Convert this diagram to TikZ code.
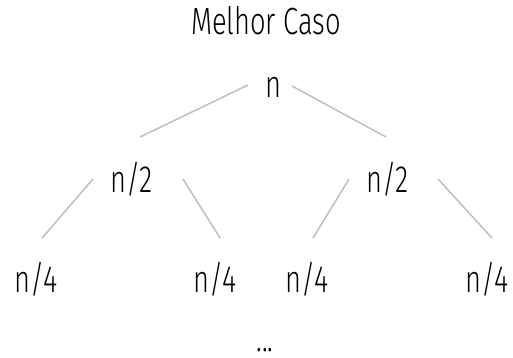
\documentclass[tikz,border=0pt]{standalone}
\usepackage{fontspec}
\setmainfont[FakeStretch=0.72]{Fira Sans Light}
\begin{document}
\begin{tikzpicture}[x=1bp,y=-1bp]
\tikzset{
  lbl/.style={anchor=base,inner sep=0pt,font=\fontsize{38}{40}\selectfont},
  edge/.style={draw={rgb,255:red,190;green,190;blue,190},line width=1.5bp}
}
\useasboundingbox (0,0) rectangle (513,357);
\node[lbl] (title) at (266,34) {Melhor Caso};
\node[lbl] (r) at (273,97) {n};
\node[lbl] (a) at (132,192) {n/2};
\node[lbl] (b) at (388,192) {n/2};
\node[lbl] (a1) at (36,292) {n/4};
\node[lbl] (a2) at (215,292) {n/4};
\node[lbl] (b1) at (307,292) {n/4};
\node[lbl] (b2) at (487,292) {n/4};
\node[lbl,text depth=0pt] (dots) at (265,351) {...};
\coordinate (rL) at (248,85);
\coordinate (rR) at (292,86);
\coordinate (aT) at (140,137);
\coordinate (bT) at (386,137);
\coordinate (aL) at (93,179);
\coordinate (aR) at (183,179);
\coordinate (bL) at (349,179);
\coordinate (bR) at (438,179);
\coordinate (a1T) at (42,238);
\coordinate (a2T) at (220,238);
\coordinate (b1T) at (313,238);
\coordinate (b2T) at (492,238);
\draw[edge] (rL) -- (aT);
\draw[edge] (rR) -- (bT);
\draw[edge] (aL) -- (a1T);
\draw[edge] (aR) -- (a2T);
\draw[edge] (bL) -- (b1T);
\draw[edge] (bR) -- (b2T);
\end{tikzpicture}
\end{document}
